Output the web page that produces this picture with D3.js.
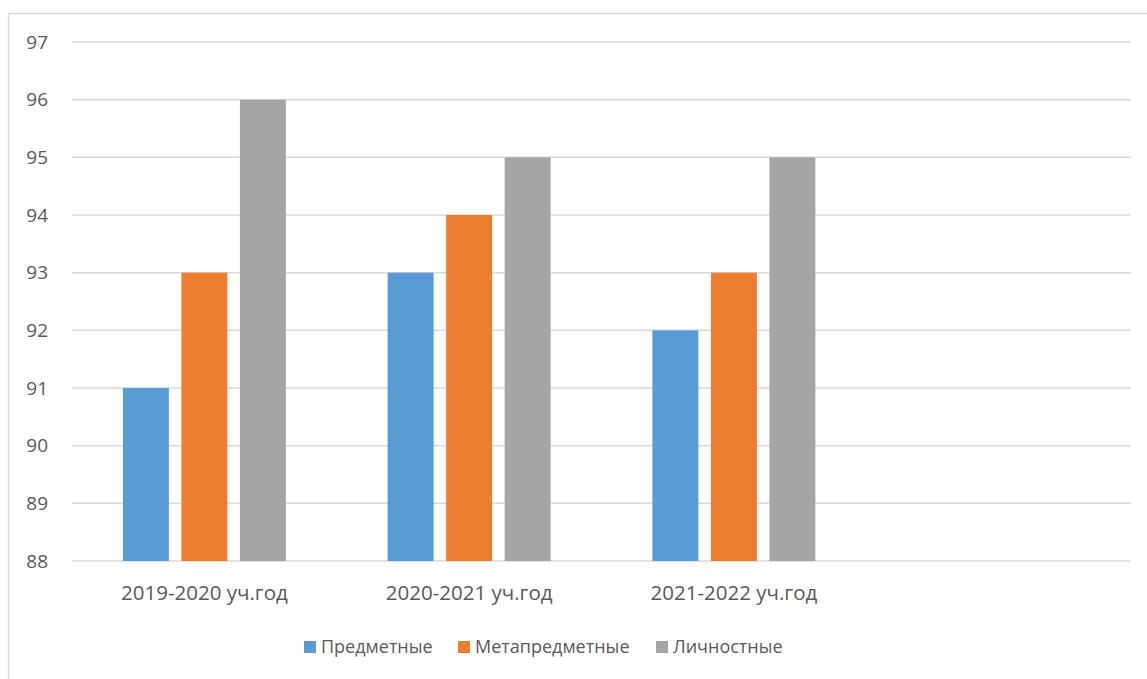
<!DOCTYPE html>
<html>
<head>
<meta charset="utf-8">
<script src="https://cdn.jsdelivr.net/npm/d3@7"></script>
<style>
    body { margin: 0; background: #fff; }
    text { font-family: "Open Sans", "Noto Sans", sans-serif; fill: #595959; }
</style>
</head>
<body>
<svg id="chart" width="1147" height="679"></svg>
<script>
// Data
var categories = ['2019-2020 уч.год', '2020-2021 уч.год', '2021-2022 уч.год', ''];
var seriesNames = ['Предметные', 'Метапредметные', 'Личностные'];
var predmetnye = [91, 93, 92];
var metapredmetnye = [93, 94, 93];
var lichnostnye = [96, 95, 95];
var yTicks = [88, 89, 90, 91, 92, 93, 94, 95, 96, 97];
var colors = ['#5b9bd5', '#ed7d31', '#a5a5a5'];

var values = [predmetnye, metapredmetnye, lichnostnye];

var svg = d3.select('#chart');

// Chart frame (right and bottom run off the picture)
svg.append('rect')
    .attr('x', 8.5).attr('y', 13.5)
    .attr('width', 1150).attr('height', 680)
    .attr('fill', 'none')
    .attr('stroke', '#d9d9d9')
    .attr('stroke-width', 1.5);

var plotLeft = 72, plotRight = 1131, plotTop = 42, plotBottom = 561;

var x0 = d3.scaleBand()
    .domain(categories)
    .range([plotLeft, plotRight])
    .padding(0);

var x1 = d3.scaleBand()
    .domain(seriesNames)
    .range([-81.5, 81.5])
    .paddingInner(0.214);

var y = d3.scaleLinear()
    .domain([88, 97])
    .range([plotBottom, plotTop]);

//--------------------------------------------------------------
// Gridlines and y labels

svg.append('g')
  .selectAll('line')
    .data(yTicks)
  .enter()
    .append('line')
      .attr('x1', plotLeft).attr('x2', plotRight)
      .attr('y1', function(d){ return y(d); })
      .attr('y2', function(d){ return y(d); })
      .attr('stroke', '#d9d9d9')
      .attr('stroke-width', 1.5);

svg.append('g')
  .selectAll('text')
    .data(yTicks)
  .enter()
    .append('text')
      .attr('x', 48)
      .attr('y', function(d){ return y(d); })
      .attr('dy', '0.35em')
      .attr('text-anchor', 'end')
      .style('font-size', '19px')
      .text(function(d){ return d; });

//--------------------------------------------------------------
// Bars

var groups = svg.append('g')
  .selectAll('g')
    .data(categories.slice(0, 3))
  .enter()
    .append('g')
      .attr('transform', function(d){ return 'translate(' + (x0(d) + x0.bandwidth() / 2) + ',0)'; });

groups.selectAll('rect')
    .data(function(d, i){ return seriesNames.map(function(s, k){ return {s: s, k: k, v: values[k][i]}; }); })
  .enter()
    .append('rect')
      .attr('x', function(d){ return x1(d.s); })
      .attr('width', x1.bandwidth())
      .attr('y', function(d){ return y(d.v); })
      .attr('height', function(d){ return y(88) - y(d.v); })
      .attr('fill', function(d){ return colors[d.k]; });

// Category labels
svg.append('g')
  .selectAll('text')
    .data(categories.slice(0, 3))
  .enter()
    .append('text')
      .attr('x', function(d){ return x0(d) + x0.bandwidth() / 2; })
      .attr('y', 600)
      .attr('text-anchor', 'middle')
      .style('font-size', '20.5px')
      .text(function(d){ return d; });

//--------------------------------------------------------------
// Legend

var legendX = [304, 458, 656];
var legend = svg.append('g')
  .selectAll('g')
    .data(seriesNames)
  .enter()
    .append('g')
      .attr('transform', function(d, i){ return 'translate(' + legendX[i] + ',641)'; });

legend.append('rect')
    .attr('width', 12).attr('height', 12)
    .attr('fill', function(d, i){ return colors[i]; });

legend.append('text')
    .attr('x', 17)
    .attr('y', 12)
    .style('font-size', '18px')
    .text(function(d){ return d; });
</script>
</body>
</html>
